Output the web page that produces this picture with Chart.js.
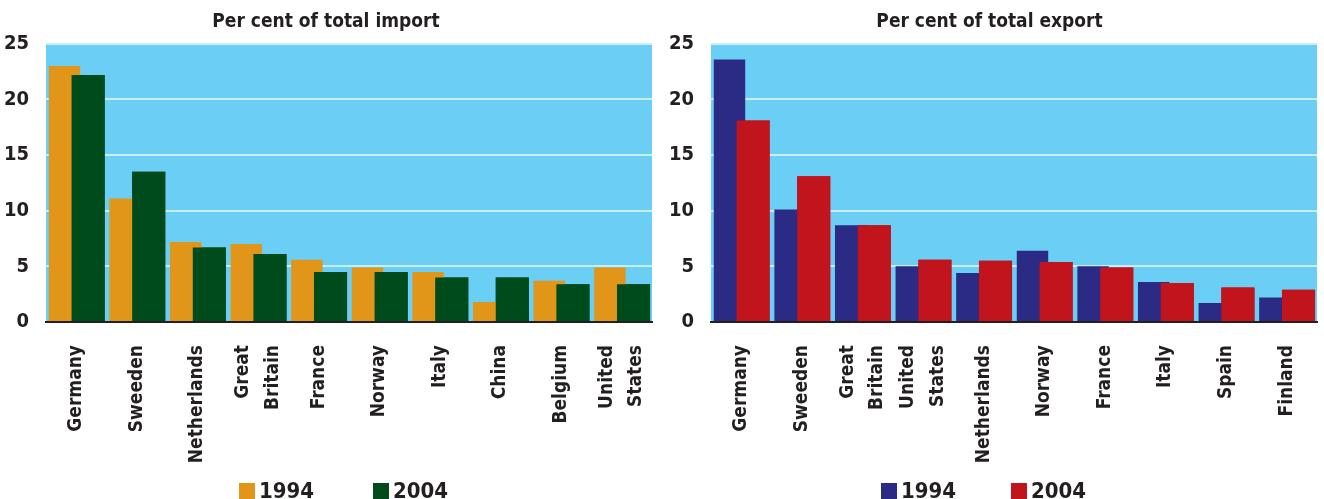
<!DOCTYPE html>
<html>
<head>
<meta charset="utf-8">
<script src="https://cdn.jsdelivr.net/npm/chart.js@4"></script>
<style>
  body { margin: 0; background: #fff; width: 1324px; height: 499px; overflow: hidden; }
  .panel { position: absolute; top: 0; width: 662px; height: 499px; }
  .legend { position: absolute; top: 478px; display: flex; font: bold 22px "Liberation Sans Narrow", "DejaVu Sans Condensed", sans-serif; color: #231f20; }
  .legend span.item { display: flex; align-items: center; }
  .legend i { display: inline-block; width: 16px; height: 16px; margin-right: 4px; }
</style>
</head>
<body>
<div class="panel" style="left:0"><canvas id="import" width="662" height="499"></canvas>
  <div class="legend" id="legend-import" style="left:239px"></div></div>
<div class="panel" style="left:662px"><canvas id="export" width="662" height="499"></canvas>
  <div class="legend" id="legend-export" style="left:219px"></div></div>
<script>
const FONT = '"DejaVu Sans Condensed", "Liberation Sans Narrow", "Open Sans", sans-serif';
const INK = "#231f20";

// Import shares, per cent
const importCountries = ["Germany", "Sweeden", "Netherlands", ["Great", "Britain"], "France", "Norway", "Italy", "China", "Belgium", ["United", "States"]];
const import1994 = [23.0, 11.1, 7.2, 7.0, 5.6, 4.9, 4.5, 1.8, 3.7, 4.9];
const import2004 = [22.2, 13.5, 6.7, 6.1, 4.5, 4.5, 4.0, 4.0, 3.4, 3.4];

// Export shares, per cent
const exportCountries = ["Germany", "Sweeden", ["Great", "Britain"], ["United", "States"], "Netherlands", "Norway", "France", "Italy", "Spain", "Finland"];
const export1994 = [23.6, 10.1, 8.7, 5.0, 4.4, 6.4, 5.0, 3.6, 1.7, 2.2];
const export2004 = [18.1, 13.1, 8.7, 5.6, 5.5, 5.4, 4.9, 3.5, 3.1, 2.9];

const yTicks = [0, 5, 10, 15, 20, 25];
const years = ["1994", "2004"];

// plot background
const plotBg = {
  id: "plotBg",
  beforeDraw(chart) {
    const a = chart.chartArea;
    chart.ctx.save();
    chart.ctx.fillStyle = "#6bcef4";
    chart.ctx.fillRect(a.left, a.top, a.right - a.left, a.bottom - a.top);
    chart.ctx.restore();
  }
};

// two-line country names: centre both lines on the tick
const centreLines = {
  id: "centreLines",
  beforeDraw(chart) {
    chart.scales.x.getLabelItems().forEach(item => {
      if (Array.isArray(item.label) && !item.centred) {
        item.options.translation[0] -= item.font.lineHeight * (item.label.length - 1) / 2;
        item.centred = true;
      }
    });
  }
};

// 2004 bars sit on top of the 1994 ones
const frontSeries = {
  id: "frontSeries",
  afterDatasetsDraw(chart) {
    chart.getDatasetMeta(1).controller.draw();
  }
};

function makeChart(id, title, labels, a, b, colors, yWidth, padRight) {
  new Chart(document.getElementById(id), {
    type: "bar",
    data: {
      labels: labels,
      datasets: [
        { label: years[0], data: a, backgroundColor: colors[0], barPercentage: 1.33, categoryPercentage: 0.78 },
        { label: years[1], data: b, backgroundColor: colors[1], barPercentage: 1.40, categoryPercentage: 0.78 },
      ],
    },
    options: {
      responsive: false,
      animation: false,
      events: [],
      layout: { padding: { right: padRight, left: 0, top: 0, bottom: 0 } },
      plugins: {
        legend: { display: false },
        tooltip: { enabled: false },
        title: {
          display: true,
          text: title,
          color: INK,
          font: { family: FONT, size: 19, weight: "bold" },
          padding: { top: 11, bottom: 10 },
        },
      },
      scales: {
        x: {
          grid: { display: false },
          border: { color: INK, width: 2 },
          afterFit(s) { s.height = 177; s.paddingLeft = 0; s.paddingRight = 0; },
          ticks: {
            color: INK,
            autoSkip: false,
            minRotation: 90,
            maxRotation: 90,
            padding: 15,
            font: { family: FONT, size: 19, weight: "bold", lineHeight: 1.55 },
          },
        },
        y: {
          min: 0,
          max: 25,
          afterFit(s) { s.width = yWidth; },
          afterBuildTicks(s) { s.ticks = yTicks.map(v => ({ value: v })); },
          border: { display: false },
          grid: { color: "#c9eefb", lineWidth: 2, drawTicks: false },
          ticks: {
            color: INK,
            padding: 17,
            font: { family: FONT, size: 20, weight: "bold" },
          },
        },
      },
    },
    plugins: [plotBg, centreLines, frontSeries],
  });

  const legend = document.getElementById("legend-" + id);
  years.forEach((y, i) => {
    const item = document.createElement("span");
    item.className = "item";
    item.style.width = id === "import" ? "134px" : "130px";
    item.innerHTML = `<i style="background:${colors[i]}"></i>${y}`;
    legend.appendChild(item);
  });
}

makeChart("import", "Per cent of total import", importCountries, import1994, import2004, ["#e1961a", "#004b1c"], 46, 10);
makeChart("export", "Per cent of total export", exportCountries, export1994, export2004, ["#2b2a85", "#c1141d"], 49, 7);
</script>
</body>
</html>
